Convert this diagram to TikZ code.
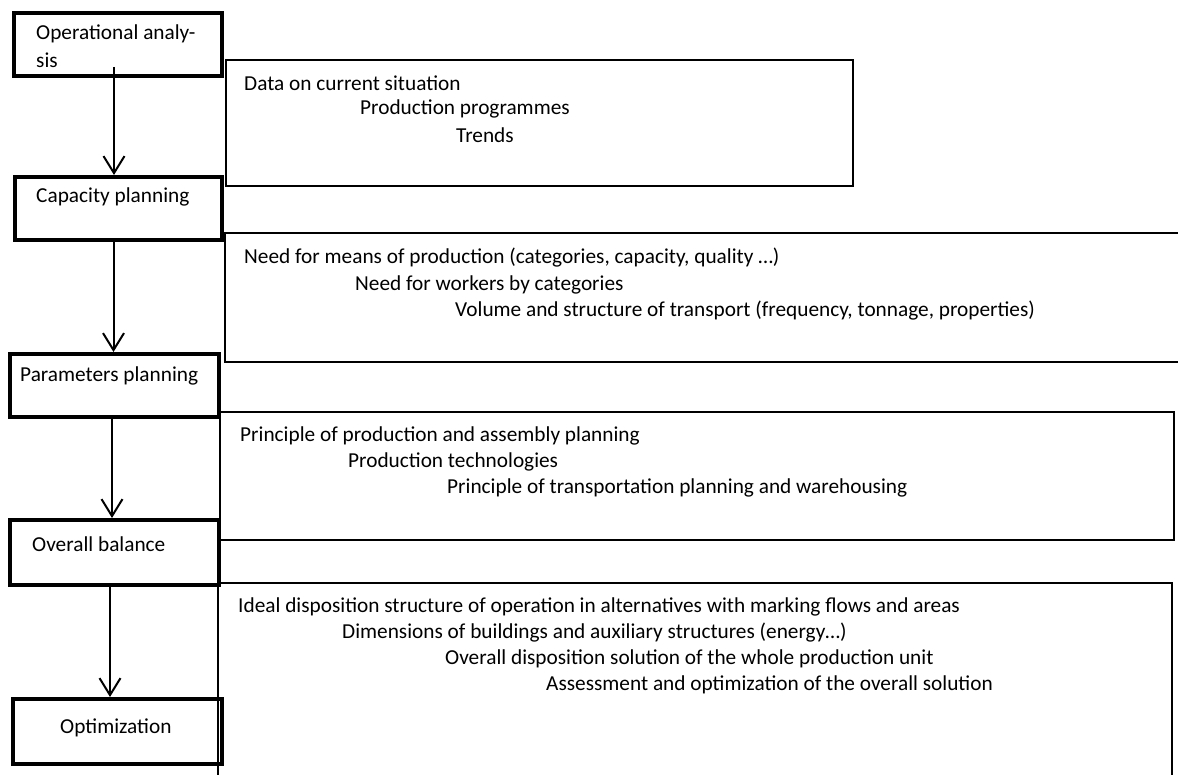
\documentclass[tikz,border=0pt]{standalone}
\usepackage{fontspec}
\setmainfont{Carlito}
\usetikzlibrary{arrows.meta}
\begin{document}
\begin{tikzpicture}[x=1pt,y=-1pt,
  stage/.style={draw,line width=4pt,rectangle,anchor=north west,inner sep=0pt},
  info/.style={draw,line width=1.6pt,rectangle,anchor=north west,inner sep=0pt},
  lbl/.style={anchor=west,inner sep=0pt,font=\fontsize{21.3}{28}\selectfont,align=left},
  flow/.style={line width=2pt,-{Straight Barb[length=17pt,width=21pt,line width=2pt]}}]
\useasboundingbox (0,0) rectangle (1178,775);

% process stages on the left
\node[stage,minimum width=208pt,minimum height=63pt] (op)  at (12,11)  {};
\node[stage,minimum width=207pt,minimum height=63pt] (cap) at (13,175) {};
\node[stage,minimum width=209pt,minimum height=63pt] (par) at (8,352)  {};
\node[stage,minimum width=209pt,minimum height=65pt] (bal) at (8,518)  {};
\node[stage,minimum width=209pt,minimum height=65pt] (opt) at (11,697) {};

\node[lbl] (opT)  at (36,46)  {Operational analy-\\sis};
\node[lbl] (capT) at (36,197) {Capacity planning};
\node[lbl] (parT) at (20,376) {Parameters planning};
\node[lbl] (balT) at (32,544) {Overall balance};
\node[lbl] (optT) at (60,728) {Optimization};

% arrows between stages
\coordinate (s1) at (114,67);
\draw[flow] (s1) -- (s1 |- cap.north);
\draw[flow] ([xshift=-5pt]cap.south) -- ([xshift=-5pt]cap.south |- par.north);
\draw[flow] ([xshift=-2.5pt]par.south) -- ([xshift=-2.5pt]par.south |- bal.north);
\draw[flow] ([xshift=-4.5pt]bal.south) -- ([xshift=-4.5pt]bal.south |- opt.north);

% content boxes on the right
\node[info,minimum width=627pt,minimum height=126pt] (bA) at (225,59)  {};
\node[info,minimum width=966pt,minimum height=129pt] (bB) at (224,232) {};
\node[info,minimum width=954pt,minimum height=128pt] (bC) at (219,411) {};
\node[info,minimum width=954pt,minimum height=210pt] (bD) at (217,582) {};

\node[lbl] (a1) at (244,83)  {Data on current situation};
\node[lbl] (a2) at (360,109) {Production programmes};
\node[lbl] (a3) at (456,135) {Trends};

\node[lbl] (b1) at (244,258) {Need for means of production (categories, capacity, quality …)};
\node[lbl] (b2) at (355,285) {Need for workers by categories};
\node[lbl] (b3) at (455,311) {Volume and structure of transport (frequency, tonnage, properties)};

\node[lbl] (c1) at (240,436) {Principle of production and assembly planning};
\node[lbl] (c2) at (348,462) {Production technologies};
\node[lbl] (c3) at (447,488) {Principle of transportation planning and warehousing};

\node[lbl] (d1) at (238,607) {Ideal disposition structure of operation in alternatives with marking flows and areas};
\node[lbl] (d2) at (342,633) {Dimensions of buildings and auxiliary structures (energy…)};
\node[lbl] (d3) at (445,659) {Overall disposition solution of the whole production unit};
\node[lbl] (d4) at (546,685) {Assessment and optimization of the overall solution};
\end{tikzpicture}
\end{document}
